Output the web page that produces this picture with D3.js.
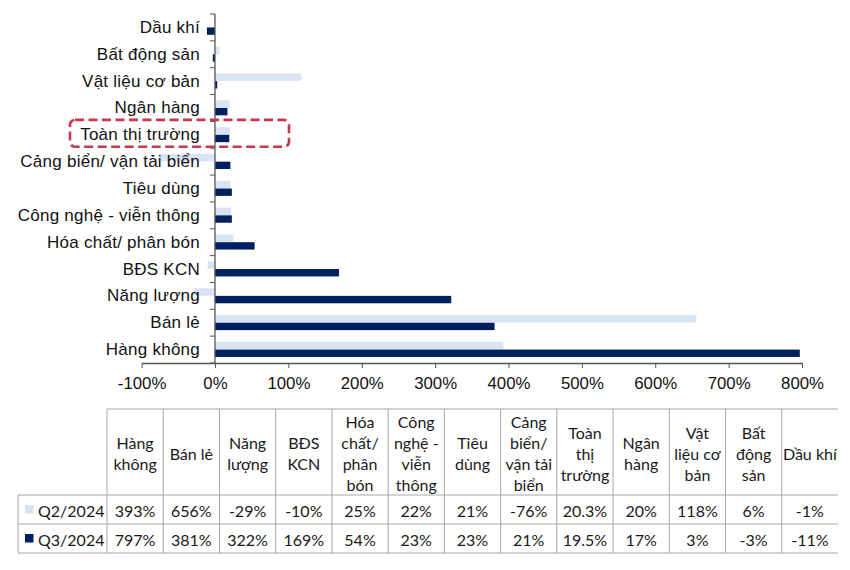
<!DOCTYPE html>
<html>
<head>
<meta charset="utf-8">
<script src="https://cdn.jsdelivr.net/npm/d3@7/dist/d3.min.js"></script>
<style>
  html, body { margin: 0; padding: 0; background: #fff; }
  svg { display: block; }
</style>
</head>
<body>
<svg id="chart" width="850" height="570"></svg>
<script>
// ---- Data ----
const categories = ["Hàng không", "Bán lẻ", "Năng lượng", "BĐS KCN", "Hóa chất/ phân bón",
  "Công nghệ - viễn thông", "Tiêu dùng", "Cảng biển/ vận tải biển", "Toàn thị trường",
  "Ngân hàng", "Vật liệu cơ bản", "Bất động sản", "Dầu khí"];
const headerLines = [["Hàng", "không"], ["Bán lẻ"], ["Năng", "lượng"], ["BĐS", "KCN"],
  ["Hóa", "chất/", "phân", "bón"], ["Công", "nghệ -", "viễn", "thông"], ["Tiêu", "dùng"],
  ["Cảng", "biển/", "vận tải", "biển"], ["Toàn", "thị", "trường"], ["Ngân", "hàng"],
  ["Vật", "liệu cơ", "bản"], ["Bất", "động", "sản"], ["Dầu khí"]];
const seriesNames = ["Q2/2024", "Q3/2024"];
const q2Values = [393, 656, -29, -10, 25, 22, 21, -76, 20.3, 20, 118, 6, -1];
const q3Values = [797, 381, 322, 169, 54, 23, 23, 21, 19.5, 17, 3, -3, -11];
const q2Labels = ["393%", "656%", "-29%", "-10%", "25%", "22%", "21%", "-76%", "20.3%", "20%", "118%", "6%", "-1%"];
const q3Labels = ["797%", "381%", "322%", "169%", "54%", "23%", "23%", "21%", "19.5%", "17%", "3%", "-3%", "-11%"];
const xTicks = [-100, 0, 100, 200, 300, 400, 500, 600, 700, 800];
const highlight = "Toàn thị trường";

const colors = { q2: "#dae3f3", q3: "#002060" };

const svg = d3.select("#chart");

// ---- Scales ----
const x = d3.scaleLinear().domain([-100, 800]).range([141.6, 802]);
const chartOrder = categories.slice().reverse(); // top to bottom
const y = d3.scaleBand().domain(chartOrder).range([14, 363]);
const bw = y.bandwidth();

const labelFont = "'Liberation Sans', Arial, sans-serif";

// ---- Bars ----
const rows = categories.map((c, i) => ({ cat: c, q2: q2Values[i], q3: q3Values[i] }));
const g = svg.append("g");
g.selectAll("rect.q2").data(rows).join("rect")
  .attr("class", "q2")
  .attr("x", d => Math.min(x(0), x(d.q2)))
  .attr("width", d => Math.abs(x(d.q2) - x(0)))
  .attr("y", d => y(d.cat) + bw * 0.215)
  .attr("height", bw * 0.275)
  .attr("fill", colors.q2);
g.selectAll("rect.q3").data(rows).join("rect")
  .attr("class", "q3")
  .attr("x", d => Math.min(x(0), x(d.q3)))
  .attr("width", d => Math.abs(x(d.q3) - x(0)))
  .attr("y", d => y(d.cat) + bw * 0.5)
  .attr("height", bw * 0.275)
  .attr("fill", colors.q3);

// ---- X axis ----
const xAxis = d3.axisBottom(x).tickValues(xTicks).tickSize(5).tickSizeOuter(0)
  .tickFormat(d => d + "%");
const xg = svg.append("g").attr("transform", "translate(0,363)").call(xAxis);
xg.select(".domain").attr("stroke", "#555").attr("stroke-width", 1.3);
xg.selectAll(".tick line").attr("stroke", "#555");
xg.selectAll(".tick text").attr("font-family", labelFont).attr("font-size", 16.8)
  .attr("fill", "#111").attr("dy", "1.1em");

// ---- Y axis (line + ticks at band boundaries) ----
const ya = svg.append("g");
ya.append("line").attr("x1", x(0)).attr("x2", x(0)).attr("y1", 14).attr("y2", 363)
  .attr("stroke", "#555").attr("stroke-width", 1.3);
const boundaries = chartOrder.map(c => y(c)).concat([363]);
ya.selectAll("line.tk").data(boundaries).join("line").attr("class", "tk")
  .attr("x1", x(0) - 5).attr("x2", x(0)).attr("y1", d => d).attr("y2", d => d)
  .attr("stroke", "#555");
ya.selectAll("text").data(chartOrder).join("text")
  .attr("x", 200).attr("y", d => y(d) + bw / 2)
  .attr("text-anchor", "end").attr("dominant-baseline", "central")
  .attr("font-family", labelFont).attr("font-size", 17).attr("letter-spacing", 0.25)
  .attr("fill", "#111")
  .text(d => d);

// ---- Highlight box ----
svg.append("rect")
  .attr("x", 70).attr("y", y(highlight) - 1.5).attr("width", 219).attr("height", bw)
  .attr("rx", 5).attr("ry", 5)
  .attr("fill", "none").attr("stroke", "#c8374f").attr("stroke-width", 2.6)
  .attr("stroke-dasharray", "9,4.5");

// ---- Table ----
const tFont = "Lato, 'Open Sans', sans-serif";
const tx = d3.scaleBand().domain(categories).range([107, 838]);
const cw = tx.bandwidth();
const tTop = 409, hBot = 495, r1Bot = 524, r2Bot = 553, leftX = 18;
const tg = svg.append("g");
const lineColor = "#a6a6a6";
// horizontal lines
tg.append("line").attr("x1", 107).attr("x2", 838).attr("y1", tTop).attr("y2", tTop).attr("stroke", lineColor);
[hBot, r1Bot, r2Bot].forEach(yy => tg.append("line").attr("x1", leftX).attr("x2", 838)
  .attr("y1", yy).attr("y2", yy).attr("stroke", lineColor));
// vertical lines
tg.append("line").attr("x1", leftX).attr("x2", leftX).attr("y1", hBot).attr("y2", r2Bot).attr("stroke", lineColor);
categories.forEach(c => tg.append("line").attr("x1", tx(c)).attr("x2", tx(c))
  .attr("y1", tTop).attr("y2", r2Bot).attr("stroke", lineColor));

// header text
const lh = 21, hMid = (tTop + hBot) / 2 + 1;
categories.forEach((c, i) => {
  const lines = headerLines[i];
  const t = tg.append("text").attr("text-anchor", "middle")
    .attr("font-family", tFont).attr("font-size", 16).attr("fill", "#1a1a1a");
  lines.forEach((l, k) => {
    t.append("tspan").attr("x", tx(c) + cw / 2)
      .attr("y", hMid + (k - (lines.length - 1) / 2) * lh)
      .attr("dominant-baseline", "central").text(l);
  });
});

// value rows
const rowDefs = [
  { name: seriesNames[0], labels: q2Labels, color: colors.q2, mid: (hBot + r1Bot) / 2 },
  { name: seriesNames[1], labels: q3Labels, color: colors.q3, mid: (r1Bot + r2Bot) / 2 }
];
rowDefs.forEach(r => {
  tg.append("rect").attr("x", 25).attr("y", r.mid - 4.5).attr("width", 8.5).attr("height", 8.5)
    .attr("fill", r.color);
  tg.append("text").attr("x", 38).attr("y", r.mid + 1).attr("dominant-baseline", "central")
    .attr("font-family", tFont).attr("font-size", 16).attr("fill", "#1a1a1a").text(r.name);
  tg.selectAll(null).data(categories).join("text")
    .attr("x", c => tx(c) + cw / 2).attr("y", r.mid + 1)
    .attr("text-anchor", "middle").attr("dominant-baseline", "central")
    .attr("font-family", tFont).attr("font-size", 16).attr("fill", "#1a1a1a")
    .text((c, i) => r.labels[i]);
});
</script>
</body>
</html>
